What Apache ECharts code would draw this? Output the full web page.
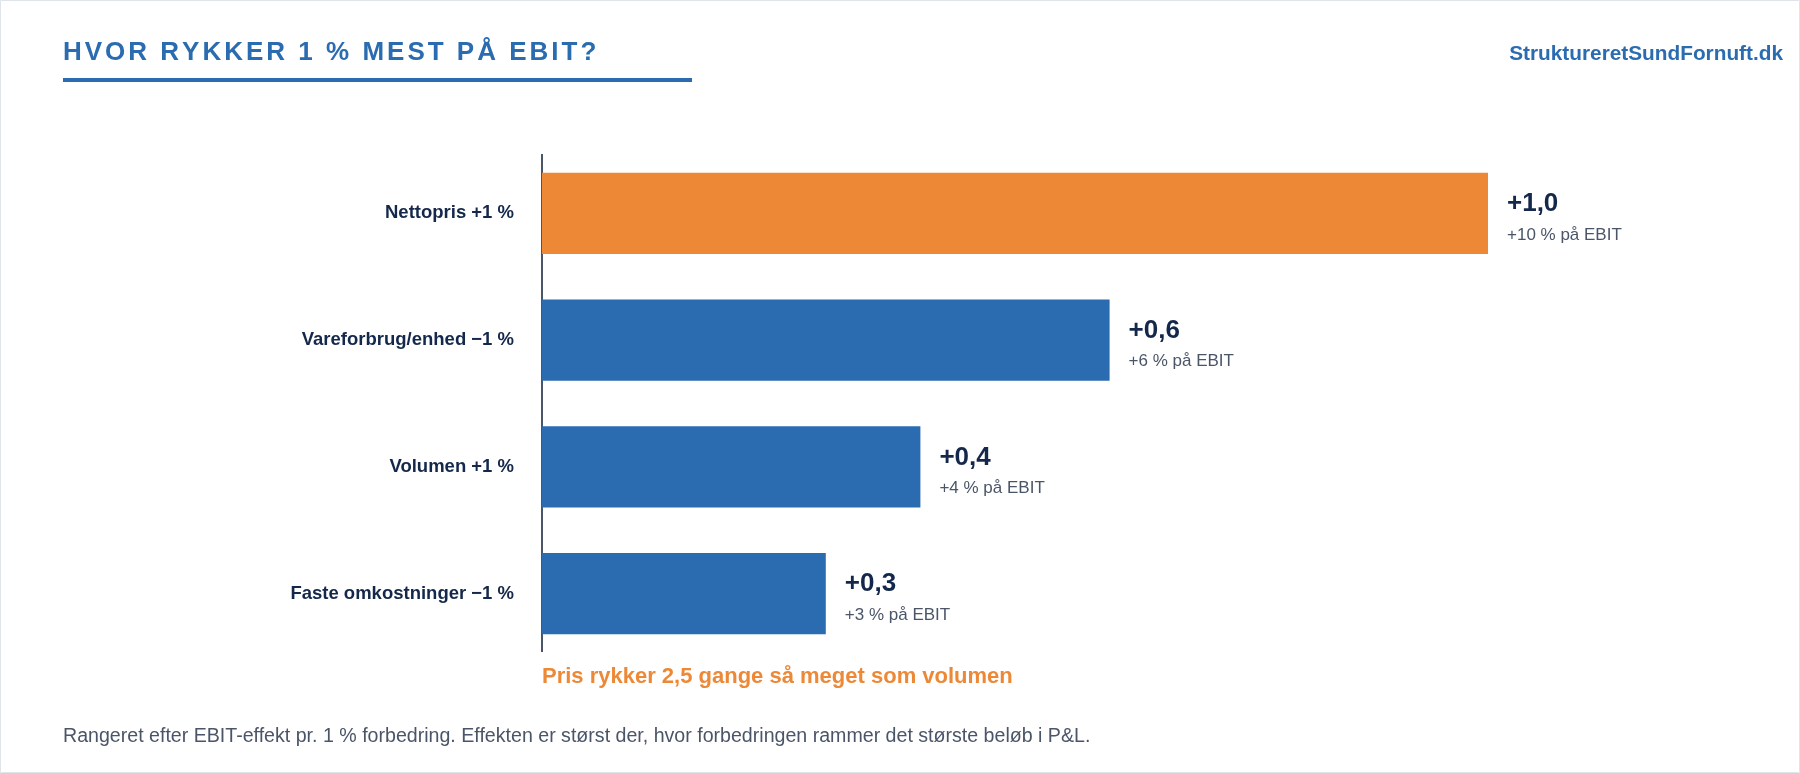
<!DOCTYPE html>
<html>
<head>
<meta charset="utf-8">
<script src="https://cdn.jsdelivr.net/npm/echarts@6/dist/echarts.min.js"></script>
<style>
  html, body { margin: 0; padding: 0; background: #fff; }
  #chart { width: 1800px; height: 773px; }
</style>
</head>
<body>
<div id="chart"></div>
<script>
// data
var categories = ['Nettopris +1 %', 'Vareforbrug/enhed −1 %', 'Volumen +1 %', 'Faste omkostninger −1 %'];
var values = [1.0, 0.6, 0.4, 0.3];
var ebitPct = [10, 6, 4, 3];
var highlightIndex = 0;

var titleText = 'HVOR RYKKER 1 % MEST PÅ EBIT?';
var brandText = 'StruktureretSundFornuft.dk';
var noteText = 'Pris rykker 2,5 gange så meget som volumen';
var footerText = 'Rangeret efter EBIT-effekt pr. 1 % forbedring. Effekten er størst der, hvor forbedringen rammer det største beløb i P&L.';

var BLUE = '#2b6cb0';
var ORANGE = '#ed8936';
var NAVY = '#14284b';
var GRAY = '#4a5568';
var FONT = '"Liberation Sans", Arial, sans-serif';

// echarts has no letter-spacing, so place title letters one by one
function spacedTitle(text, x, y, font, spacing) {
    var ctx = document.createElement('canvas').getContext('2d');
    ctx.font = font;
    var children = [];
    var cx = 0;
    text.split('').forEach(function (ch) {
        children.push({
            type: 'text',
            x: cx,
            y: 0,
            style: { text: ch, fill: BLUE, font: font, verticalAlign: 'top' }
        });
        cx += ctx.measureText(ch).width + spacing;
    });
    return { type: 'group', x: x, y: y, children: children };
}

var chart = echarts.init(document.getElementById('chart'));

var option = {
    animation: false,
    textStyle: { fontFamily: FONT },
    grid: { left: 542, top: 150, width: 946, height: 507, containLabel: false },
    xAxis: {
        type: 'value',
        min: 0,
        max: 1,
        show: false
    },
    yAxis: {
        type: 'category',
        data: categories,
        inverse: true,
        axisLine: { show: false },
        axisTick: { show: false },
        axisLabel: {
            margin: 28,
            color: NAVY,
            fontSize: 18.5,
            fontWeight: 'bold',
            fontFamily: FONT,
            padding: [6, 0, 0, 0]
        }
    },
    series: [{
        type: 'bar',
        barWidth: '64%',
        data: values.map(function (v, i) {
            return {
                value: v,
                itemStyle: { color: i === highlightIndex ? ORANGE : BLUE }
            };
        }),
        label: {
            show: true,
            position: 'right',
            distance: 19,
            offset: [0, 6],
            formatter: function (p) {
                var v = '+' + p.value.toFixed(1).replace('.', ',');
                return '{v|' + v + '}\n{s|+' + ebitPct[p.dataIndex] + ' % på EBIT}';
            },
            rich: {
                v: { fontSize: 26, fontWeight: 'bold', color: NAVY, lineHeight: 31, fontFamily: FONT },
                s: { fontSize: 17, color: GRAY, lineHeight: 31, fontFamily: FONT }
            }
        }
    }],
    graphic: [
        {
            type: 'rect',
            shape: { x: 0.5, y: 0.5, width: 1799, height: 772 },
            style: { fill: 'none', stroke: '#dfe4ea', lineWidth: 1 },
            silent: true
        },
        // baseline of the bars
        {
            type: 'line',
            shape: { x1: 542, y1: 154, x2: 542, y2: 652 },
            style: { stroke: GRAY, lineWidth: 2 }
        },
        spacedTitle(titleText, 63, 40, 'bold 26px ' + FONT, 3),
        {
            type: 'rect',
            shape: { x: 63, y: 78, width: 629, height: 4 },
            style: { fill: BLUE }
        },
        {
            type: 'text',
            right: 17,
            top: 44,
            style: {
                text: brandText,
                fill: BLUE,
                font: 'bold 20.8px ' + FONT
            }
        },
        {
            type: 'text',
            left: 542,
            top: 666,
            style: {
                text: noteText,
                fill: ORANGE,
                font: 'bold 22px ' + FONT
            }
        },
        {
            type: 'text',
            left: 63,
            top: 727,
            style: {
                text: footerText,
                fill: GRAY,
                font: '19.6px ' + FONT
            }
        }
    ]
};

chart.setOption(option);
</script>
</body>
</html>
